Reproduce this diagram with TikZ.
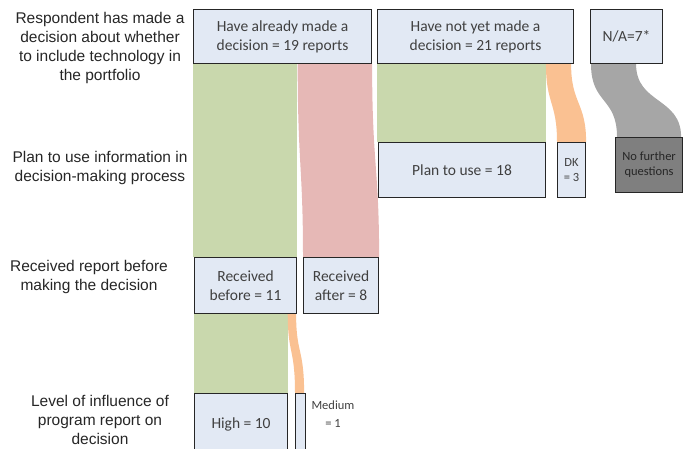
\documentclass[tikz,border=0pt]{standalone}
\usepackage{fontspec}
\setmainfont{Carlito}
\newfontfamily\labelfont{Liberation Sans}
\usepackage{xcolor}
\usepackage{tikz}
\usetikzlibrary{calc, backgrounds}
\definecolor{mydark}{RGB}{38,38,38}
\definecolor{mytext}{RGB}{64,64,64}
\definecolor{hdrblue}{RGB}{226,233,244}
\definecolor{flowgreen}{RGB}{201,216,173}
\definecolor{flowred}{RGB}{230,184,182}
\definecolor{floworange}{RGB}{250,193,146}
\definecolor{flowgray}{RGB}{166,166,166}
\definecolor{endgray}{RGB}{127,127,127}
\tikzset{
  box/.style={rectangle, draw=mydark, fill=hdrblue, anchor=north west,
    inner sep=0pt, align=center, text=mytext,
    font=\fontsize{15.5}{19}\selectfont, line width=1.1pt},
  smallbox/.style={box, font=\fontsize{12.5}{15}\selectfont},
  endbox/.style={smallbox, fill=endgray, text=mydark},
  rowlabel/.style={align=center, text=mydark,
    font=\labelfont\fontsize{15.5}{19}\selectfont},
  greenflow/.style={fill=flowgreen},
  redflow/.style={fill=flowred},
  orangeflow/.style={fill=floworange},
  grayflow/.style={fill=flowgray}
}

\begin{document}
\begin{tikzpicture}[x=1pt, y=-1pt]
  \useasboundingbox (0,0) rectangle (684,448);
  \clip (0,0) rectangle (684,448);

  % Row labels
  \node[rowlabel] (q1) at (100,48) {Respondent has made a\\decision about whether\\to include technology in\\the portfolio};
  \node[rowlabel] (q2) at (100,168) {Plan to use information in\\decision-making process};
  \node[rowlabel] (q3) at (89,277) {Received report before\\making the decision};
  \node[rowlabel] (q4) at (100,420) {Level of influence of\\program report on\\decision};

  % First level: decision made or not
  \node[box, minimum width=178pt, minimum height=54pt] (have) at (193,9) {Have already made a\\decision = 19 reports};
  \node[box, minimum width=196pt, minimum height=54pt] (notyet) at (377,9) {Have not yet made a\\decision = 21 reports};
  \node[box, minimum width=72pt, minimum height=54pt] (na) at (590,9) {N/A=7*};

  % Second level: plan to use
  \node[box, minimum width=167pt, minimum height=55pt] (plan) at (378,142) {Plan to use = 18};
  \node[smallbox, minimum width=28pt, minimum height=55pt] (dk) at (557,142) {DK\\= 3};
  \node[endbox, minimum width=67pt, minimum height=55pt] (nofurther) at (615,137) {No further\\questions};

  % Third level: when the report came in
  \node[box, minimum width=102pt, minimum height=56pt] (before) at (194,257) {Received\\before = 11};
  \node[box, minimum width=75pt, minimum height=56pt] (after) at (303,257) {Received\\after = 8};

  % Fourth level: influence
  \node[box, minimum width=93pt, minimum height=62pt] (high) at (194,393) {High = 10};
  \node[box, minimum width=10pt, minimum height=62pt] (medium) at (295,393) {};
  \node[align=center, text=mytext, font=\fontsize{12.5}{18}\selectfont] (mediumlbl) at (333,414) {Medium\\= 1};

  % Split points on the box edges
  \coordinate (haveSplit) at ($(have.south west)!11/19!(have.south east)+(1,0)$);
  \coordinate (notyetSplit) at ($(notyet.south west)!18/21!(notyet.south east)$);
  \coordinate (naSplit) at ($(na.south west)!0.63!(na.south east)$);
  \coordinate (beforeSplit) at ($(before.south west)!10/11!(before.south east)$);

  % Flows between levels
  \begin{scope}[on background layer]
    \fill[greenflow] (have.south west) rectangle (before.north east);
    \fill[redflow] (haveSplit) .. controls +(0,100) and +(0,-90) .. (after.north west)
      -- (after.north east) .. controls +(0,-90) and +(0,100) .. (have.south east) -- cycle;
    \fill[greenflow] (notyet.south west) rectangle (plan.north east);
    \fill[orangeflow] (notyetSplit) .. controls +(0,40) and +(0,-40) .. (dk.north west)
      -- (dk.north east) .. controls +(0,-40) and +(0,40) .. ($(notyet.south east)+(-3,0)$) -- cycle;
    \fill[grayflow] ($(na.south west)+(1,0)$) .. controls +(0,40) and +(0,-40) .. ($(nofurther.north west)+(2,0)$)
      -- ($(nofurther.north east)+(-2,0)$) .. controls +(0,-40) and +(0,40) .. (naSplit) -- cycle;
    \fill[greenflow] (before.south west) rectangle (high.north east);
    \fill[orangeflow] (beforeSplit) .. controls +(0,40) and +(0,-45) .. (medium.north west)
      -- ($(medium.north east)+(-2,0)$) .. controls +(0,-45) and +(0,40) .. ($(before.south east)+(-1,0)$) -- cycle;
  \end{scope}
\end{tikzpicture}
\end{document}
